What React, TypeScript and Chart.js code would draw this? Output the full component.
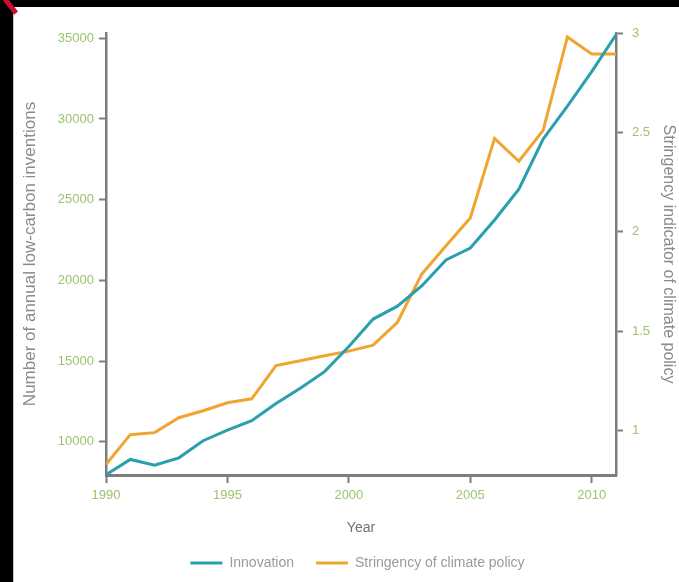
import React, { useEffect, useRef } from "react";
import { Chart, registerables } from "chart.js";

Chart.register(...registerables);

const YEARS = [1990, 1991, 1992, 1993, 1994, 1995, 1996, 1997, 1998, 1999, 2000, 2001, 2002, 2003, 2004, 2005, 2006, 2007, 2008, 2009, 2010, 2011];
const INNOVATION = [7950, 8900, 8550, 9000, 10060, 10720, 11300, 12370, 13310, 14340, 15900, 17600, 18400, 19650, 21260, 22000, 23740, 25650, 28750, 30800, 32930, 35220];
const STRINGENCY = [0.83, 0.98, 0.99, 1.065, 1.1, 1.14, 1.16, 1.327, 1.352, 1.377, 1.4, 1.43, 1.545, 1.787, 1.93, 2.07, 2.47, 2.355, 2.51, 2.98, 2.895, 2.895];
const X_TICKS = [1990, 1995, 2000, 2005, 2010];
const LEFT_TICKS = [10000, 15000, 20000, 25000, 30000, 35000];
const RIGHT_TICKS = [1, 1.5, 2, 2.5, 3];

const SERIES_NAMES = ["Innovation", "Stringency of climate policy"];

export default function App() {
  const ref = useRef<HTMLCanvasElement>(null);

  useEffect(() => {
    const TEAL = "#2a9fae";
    const ORANGE = "#efa530";
    const AXIS = "#7d7d7d";
    const LABEL = "#9cc46c";
    const TITLE = "#8a8a8a";
    const FONT = "'Liberation Sans', Arial, sans-serif";

    const chart = new Chart(ref.current as HTMLCanvasElement, {
      type: "line",
      data: {
        datasets: [
          {
            label: SERIES_NAMES[0],
            data: YEARS.map((x, i) => ({ x, y: INNOVATION[i] })),
            borderColor: TEAL,
            backgroundColor: TEAL,
            borderWidth: 3,
            pointRadius: 0,
            tension: 0,
            yAxisID: "y",
          },
          {
            label: SERIES_NAMES[1],
            data: YEARS.map((x, i) => ({ x, y: STRINGENCY[i] })),
            borderColor: ORANGE,
            backgroundColor: ORANGE,
            borderWidth: 3,
            pointRadius: 0,
            tension: 0,
            yAxisID: "y1",
          },
        ],
      },
      options: {
        responsive: false,
        animation: false,
        layout: { padding: { top: 33, left: 0, right: 0, bottom: 2 } },
        plugins: {
          tooltip: { enabled: false },
          legend: {
            position: "bottom",
            labels: {
              boxWidth: 32,
              boxHeight: 3,
              padding: 22,
              color: "#9a9a9a",
              font: { family: FONT, size: 14 },
              generateLabels: (c: any) =>
                c.data.datasets.map((d: any, i: number) => ({
                  text: d.label,
                  fillStyle: d.borderColor,
                  strokeStyle: d.borderColor,
                  lineWidth: 0,
                  hidden: false,
                  datasetIndex: i,
                  fontColor: "#9a9a9a",
                })),
            },
          },
        },
        scales: {
          x: {
            type: "linear",
            min: 1990,
            max: 2011,
            afterBuildTicks: (s: any) => {
              s.ticks = X_TICKS.map((v) => ({ value: v }));
            },
            afterFit: (s: any) => {
              s.height = 59;
            },
            ticks: {
              color: LABEL,
              font: { family: FONT, size: 13 },
              padding: 5,
              maxRotation: 0,
              callback: (v: any) => String(v),
            },
            grid: { drawOnChartArea: false, drawTicks: true, tickLength: 8, tickWidth: 2, tickColor: AXIS },
            border: { display: true, color: AXIS, width: 3 },
            title: {
              display: true,
              text: "Year",
              color: "#707070",
              font: { family: FONT, size: 14 },
              padding: { top: 0, bottom: -2.4 },
            },
          },
          y: {
            type: "linear",
            position: "left",
            min: 7936,
            max: 35328,
            afterBuildTicks: (s: any) => {
              s.ticks = LEFT_TICKS.map((v) => ({ value: v }));
            },
            afterFit: (s: any) => {
              s.width = 106;
            },
            ticks: {
              color: LABEL,
              font: { family: FONT, size: 13 },
              padding: 5,
              callback: (v: any) => String(v),
            },
            grid: { drawOnChartArea: false, drawTicks: true, tickLength: 7, tickWidth: 2, tickColor: AXIS },
            border: { display: true, color: AXIS, width: 2.5 },
            title: {
              display: true,
              text: "Number of annual low-carbon inventions",
              color: TITLE,
              font: { family: FONT, size: 17 },
              padding: { top: 20.5, bottom: 0 },
            },
          },
          y1: {
            type: "linear",
            position: "right",
            min: 0.777,
            max: 3.0,
            afterBuildTicks: (s: any) => {
              s.ticks = RIGHT_TICKS.map((v) => ({ value: v }));
            },
            afterFit: (s: any) => {
              s.width = 63;
            },
            ticks: {
              color: LABEL,
              font: { family: FONT, size: 13 },
              padding: 9,
              callback: (v: any) => String(v),
            },
            grid: { drawOnChartArea: false, drawTicks: true, tickLength: 7, tickWidth: 2, tickColor: AXIS },
            border: { display: true, color: AXIS, width: 2.5 },
            title: {
              display: true,
              text: "Stringency indicator of climate policy",
              color: TITLE,
              font: { family: FONT, size: 16 },
              padding: { top: 1.4, bottom: 0 },
            },
          },
        },
      } as any,
      plugins: [
        {
          id: "shiftLegend",
          afterLayout(c: any) {
            if (c.legend) {
              c.legend.left = 36;
            }
          },
        },
      ],
    });
    return () => chart.destroy();
  }, []);

  return (
    <div style={{ position: "absolute", left: 0, top: 0, width: 679, height: 582, background: "#000", overflow: "hidden" }}>
      <div style={{ position: "absolute", left: 13, top: 7, right: 0, bottom: 0, background: "#fff", borderLeft: "1px solid #c8c8c8" }} />
      <div style={{ position: "absolute", left: 8, top: -3, width: 5, height: 18, background: "#c8102e", transform: "rotate(-38deg)" }} />
      <canvas ref={ref} width={679} height={582} style={{ position: "absolute", left: 0, top: 0, width: 679, height: 582 }} />
    </div>
  );
}
